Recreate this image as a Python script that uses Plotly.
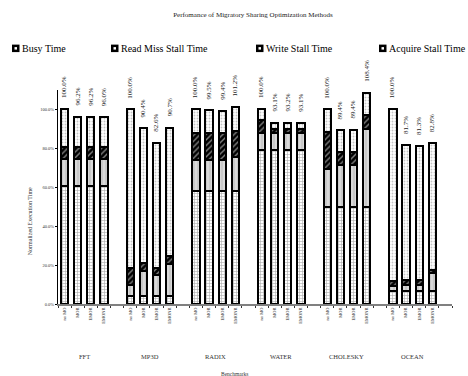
import plotly.graph_objects as go

# Benchmarks and the optimization methods compared for each one
benchmarks = ["FFT", "MP3D", "RADIX", "WATER", "CHOLESKY", "OCEAN"]
methods = ["no MO", "MOR", "EMOR", "EMONR"]

# Normalized execution time components (% of the no-MO run), per benchmark x method
busy = [
    [60.5, 60.5, 60.5, 60.5],
    [4.0, 4.0, 4.0, 4.0],
    [58.0, 58.0, 58.0, 58.0],
    [79.2, 79.2, 79.2, 79.2],
    [50.0, 50.0, 50.0, 50.0],
    [6.5, 6.5, 6.5, 6.5],
]
read_miss = [
    [14.0, 14.0, 14.0, 14.0],
    [6.0, 12.8, 11.1, 16.8],
    [16.0, 16.0, 16.0, 17.5],
    [8.6, 8.6, 8.6, 8.6],
    [19.6, 21.3, 21.3, 40.2],
    [2.5, 3.5, 3.5, 9.5],
]
write_stall = [
    [6.0, 6.0, 6.0, 6.0],
    [8.5, 4.2, 3.5, 3.7],
    [14.0, 14.0, 14.0, 13.3],
    [6.8, 2.0, 2.0, 2.0],
    [18.8, 6.9, 6.9, 6.8],
    [2.7, 2.5, 2.5, 1.5],
]
acquire_stall = [
    [19.5, 15.7, 15.7, 15.5],
    [81.5, 69.4, 64.0, 66.2],
    [12.0, 11.5, 11.4, 12.4],
    [5.4, 3.3, 3.4, 3.3],
    [11.6, 11.2, 11.2, 11.4],
    [88.3, 69.2, 68.8, 65.3],
]

y_ticks = [0, 20, 40, 60, 80, 100]

FONT = "Liberation Serif, Times New Roman, serif"

# one slot per bar plus an empty slot after each benchmark group
x_pos, x_lab = [], []
for g, _ in enumerate(benchmarks):
    for m, name in enumerate(methods):
        x_pos.append(g * 5 + m)
        x_lab.append(name)


def flat(rows):
    return [v for row in rows for v in row]


series = [
    ("Busy Time", flat(busy), dict(shape="+", size=3, fgcolor="#555555", bgcolor="white", solidity=0.35)),
    ("Read Miss Stall Time", flat(read_miss), dict(shape="|", size=4, fgcolor="white", bgcolor="#c8c8c8", solidity=0.3)),
    ("Write Stall Time", flat(write_stall), dict(shape="/", size=4, fgcolor="white", bgcolor="black", solidity=0.35)),
    ("Acquire Stall Time", flat(acquire_stall), dict(shape=".", size=3, fgcolor="#888888", bgcolor="white", solidity=0.3)),
]

fig = go.Figure()
for name, vals, pat in series:
    fig.add_trace(go.Bar(
        x=x_pos, y=vals, name=name, width=0.55,
        marker=dict(color=pat["bgcolor"], pattern=pat, line=dict(color="black", width=2.2)),
        showlegend=False,
    ))

totals = [sum(s[1][i] for s in series) for i in range(len(x_pos))]

annotations = []
# total labels above each stacked bar
for x, t in zip(x_pos, totals):
    annotations.append(dict(
        x=x, y=t, xref="x", yref="y", text=f"{t:.1f}%", textangle=-90,
        showarrow=False, yanchor="bottom", xanchor="center", yshift=9,
        font=dict(family=FONT, size=7, color="#222222"),
    ))

# benchmark group names under the method labels
for g, b in enumerate(benchmarks):
    annotations.append(dict(
        x=g * 5 + 1.5, y=-0.245, xref="x", yref="paper", text=b, showarrow=False,
        yanchor="middle", font=dict(family=FONT, size=6.5, color="#333333"),
    ))

annotations.append(dict(
    x=0.45, y=-0.325, xref="paper", yref="paper", text="Benchmarks", showarrow=False,
    yanchor="middle", font=dict(family=FONT, size=5.5, color="#333333"),
))
annotations.append(dict(
    x=-0.072, y=0.385, xref="paper", yref="paper", text="Normalized Execution Time",
    textangle=-90, showarrow=False, xanchor="center", yanchor="middle",
    font=dict(family=FONT, size=6, color="#333333"),
))

# legend row drawn as small swatches with labels
L, W, T, H = 58, 394, 90, 214.5


def px_x(p):
    return (p - L) / W


def px_y(p):
    return (T + H - p) / H


shapes = []
legend_items = [(12, "Busy Time"), (111, "Read Miss Stall Time"), (256, "Write Stall Time"), (379, "Acquire Stall Time")]
for x0, label in legend_items:
    shapes.append(dict(type="rect", xref="paper", yref="paper",
                       x0=px_x(x0), x1=px_x(x0 + 7.5), y0=px_y(44.5), y1=px_y(52),
                       fillcolor="black", line=dict(width=0)))
    shapes.append(dict(type="rect", xref="paper", yref="paper",
                       x0=px_x(x0 + 2.5), x1=px_x(x0 + 5), y0=px_y(47), y1=px_y(49.5),
                       fillcolor="white", line=dict(width=0)))
    annotations.append(dict(
        x=px_x(x0 + 8), y=px_y(48.5), xref="paper", yref="paper", text=label,
        showarrow=False, xanchor="left", yanchor="middle",
        font=dict(family=FONT, size=10, color="black"),
    ))

fig.update_layout(
    width=468, height=376,
    margin=dict(l=L, r=468 - L - W, t=T, b=376 - T - H),
    paper_bgcolor="white", plot_bgcolor="white",
    barmode="stack", bargap=0,
    title=dict(text="Perfomance of Migratory Sharing Optimization Methods",
               x=253 / 468, xanchor="center", y=1 - 15 / 376, yanchor="middle",
               font=dict(family=FONT, size=7, color="#222222")),
    annotations=annotations,
    shapes=shapes,
    xaxis=dict(
        range=[-0.5, 29.5], tickvals=x_pos, ticktext=x_lab, tickangle=-90,
        tickfont=dict(family=FONT, size=4.5, color="#333333"),
        showline=True, linecolor="#808080", linewidth=1.5, showgrid=False,
        zeroline=False, ticks="",
        minor=dict(tick0=-0.5, dtick=1, ticks="outside", ticklen=2, tickcolor="#333333"),
    ),
    yaxis=dict(
        range=[0, 110], tickvals=y_ticks, ticktext=[f"{v:.1f}%" for v in y_ticks],
        tickfont=dict(family=FONT, size=4.5, color="#333333"),
        showline=True, linecolor="black", linewidth=1, showgrid=False,
        zeroline=False, ticks="outside", ticklen=2, tickcolor="black",
    ),
)

fig.write_html("out.html")
